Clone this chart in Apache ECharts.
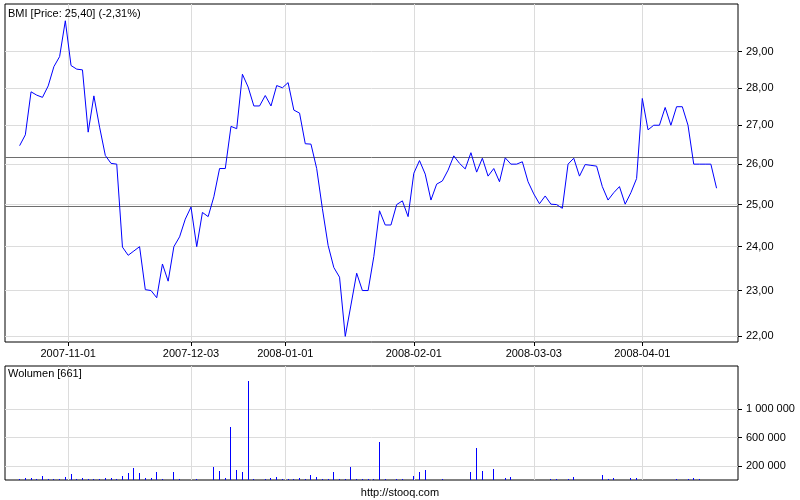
<!DOCTYPE html>
<html><head><meta charset="utf-8">
<script src="https://cdn.jsdelivr.net/npm/echarts@6/dist/echarts.min.js"></script>
<style>html,body{margin:0;padding:0;background:#fff}#c{width:800px;height:500px}</style>
</head><body><div id="c"></div>
<script>
// ---- data ----
const startDate = '2007-10-19';
const endDate = '2008-04-18';
const holidays = ['2007-11-01','2007-12-24','2007-12-25','2007-12-26','2007-12-31','2008-01-01','2008-03-21','2008-03-24'];
const tickLabels = ['2007-11-01','2007-12-03','2008-01-01','2008-02-01','2008-03-03','2008-04-01'];
const price = [
 26.47,26.75,27.89,27.80,27.74,28.05,28.58,28.86,29.88,28.61,
 28.51,28.49,26.82,27.78,26.95,26.22,26.02,26.00,23.99,23.80,
 23.90,24.00,23.02,23.00,22.84,23.60,23.21,24.00,24.23,24.65,
 24.94,24.00,24.81,24.71,25.19,25.89,25.89,26.97,26.91,28.37,
 28.02,27.51,27.51,27.79,27.51,28.06,28.00,28.14,27.40,27.32,
 26.52,26.51,25.89,24.90,24.03,23.52,23.30,22.00,22.68,23.39,
 23.00,23.00,23.77,24.85,24.51,24.51,25.00,25.09,24.71,25.77,
 26.09,25.75,25.11,25.50,25.58,25.85,26.21,26.02,25.88,26.29,
 25.80,26.15,25.70,25.89,25.56,26.16,26.00,26.00,26.06,25.56,
 25.26,25.02,25.21,25.01,25.00,24.91,26.00,26.15,25.70,25.99,
 25.97,25.95,25.44,25.11,25.29,25.44,25.01,25.29,25.64,27.71,
 26.88,27.00,27.00,27.47,27.00,27.49,27.49,27.00,26.00,26.00,
 26.00,26.00,25.40
];
const volume = [
 14000,28000,28000,14000,57000,14000,14000,14000,42000,85000,
 14000,28000,14000,14000,14000,28000,28000,14000,57000,99000,
 170000,99000,28000,28000,113000,14000,0,113000,14000,0,
 0,14000,0,0,184000,127000,28000,750000,141000,113000,
 1405000,14000,0,14000,28000,42000,14000,14000,14000,28000,
 14000,71000,42000,14000,14000,113000,14000,14000,184000,14000,
 14000,14000,14000,538000,14000,0,14000,14000,0,57000,
 113000,141000,0,0,14000,0,0,0,0,113000,
 453000,127000,0,156000,0,28000,42000,0,0,0,
 0,0,0,14000,14000,0,14000,42000,0,0,
 0,0,71000,14000,28000,0,0,28000,28000,0,
 0,0,0,0,0,14000,0,14000,28000,14000,
 0,0,661
];
const refLevels = [26.18, 24.95];
const priceTicks = [22,23,24,25,26,27,28,29];
const volumeTicks = [200000,600000,1000000];

// ---- build trading-day categories ----
const dates = [];
(function(){
  let d = new Date(startDate + 'T00:00:00Z');
  const end = new Date(endDate + 'T00:00:00Z');
  while (d <= end) {
    const s = d.toISOString().slice(0,10);
    const wd = d.getUTCDay();
    if (wd !== 0 && wd !== 6 && holidays.indexOf(s) < 0) dates.push(s);
    d = new Date(d.getTime() + 86400000);
  }
})();
// tick positions (index on the trading-day scale; non-trading dates fall between days)
const tickPos = tickLabels.map(t => {
  const k = dates.indexOf(t);
  if (k >= 0) return k;
  const j = dates.findIndex(s => s > t);
  return j - 0.5;
});
const priceData = price.map((v,i) => [i, v]);
const volData = volume.map((v,i) => [i, v]);

const last = price[price.length-1], prev = price[price.length-2];
const pct = (last/prev - 1) * 100;
const fmt2 = v => v.toFixed(2).replace('.', ',');
const fmtVol = v => String(Math.round(v)).replace(/\B(?=(\d{3})+(?!\d))/g, ' ');
const fmtX = v => { const k = tickPos.findIndex(p => Math.abs(p - v) < 0.01); return k >= 0 ? tickLabels[k] : ''; };

const FONT = '"Liberation Sans", Arial, sans-serif';
const GRIDC = '#dcdcdc';
const xMin = -2.56, xMax = 125.75;

const chart = echarts.init(document.getElementById('c'), null, {renderer:'canvas'});
chart.setOption({
  animation: false,
  backgroundColor: '#fff',
  textStyle: {fontFamily: FONT},
  title: [
    {text: 'BMI [Price: ' + fmt2(last) + '] (' + fmt2(pct) + '%)', left: 8, top: 8, padding: 0,
     textStyle: {fontSize: 11, fontWeight: 'normal', color: '#000', fontFamily: FONT}},
    {text: 'Wolumen [' + volume[volume.length-1] + ']', left: 8, top: 368, padding: 0,
     textStyle: {fontSize: 11, fontWeight: 'normal', color: '#000', fontFamily: FONT}},
    {text: 'http://stooq.com', left: 'center', top: 487, padding: 0,
     textStyle: {fontSize: 11, fontWeight: 'normal', color: '#000', fontFamily: FONT}}
  ],
  grid: [
    {left: 5, top: 4, width: 733, height: 338, show: true, borderColor: '#000', borderWidth: 1, backgroundColor: 'transparent'},
    {left: 5, top: 366, width: 733, height: 114, show: true, borderColor: '#000', borderWidth: 1, backgroundColor: 'transparent'}
  ],
  xAxis: [
    {type: 'value', gridIndex: 0, min: xMin, max: xMax,
     axisLine: {show: false, onZero: false},
     axisTick: {show: true, inside: false, length: 4, customValues: tickPos, lineStyle: {color: '#000'}},
     axisLabel: {show: true, customValues: tickPos, formatter: fmtX, margin: 6, fontSize: 11, color: '#000', fontFamily: FONT},
     splitLine: {show: true, lineStyle: {color: GRIDC, width: 1}}},
    {type: 'value', gridIndex: 1, min: xMin, max: xMax,
     axisLine: {show: false, onZero: false},
     axisTick: {show: false, customValues: tickPos},
     axisLabel: {show: false, customValues: tickPos},
     splitLine: {show: true, lineStyle: {color: GRIDC, width: 1}}}
  ],
  yAxis: [
    {type: 'log', logBase: 10, gridIndex: 0, position: 'right', min: 21.88, max: 30.37,
     axisLine: {show: false, onZero: false},
     axisTick: {show: true, inside: false, length: 4, customValues: priceTicks, lineStyle: {color: '#000'}},
     axisLabel: {show: true, customValues: priceTicks, formatter: fmt2, margin: 8, fontSize: 11, color: '#000', fontFamily: FONT},
     splitLine: {show: true, lineStyle: {color: GRIDC, width: 1}}},
    {type: 'value', gridIndex: 1, position: 'right', min: 0, max: 1610000,
     axisLine: {show: false, onZero: false},
     axisTick: {show: true, inside: false, length: 4, customValues: volumeTicks, lineStyle: {color: '#000'}},
     axisLabel: {show: true, customValues: volumeTicks, formatter: fmtVol, margin: 8, fontSize: 11, color: '#000', fontFamily: FONT},
     splitLine: {show: true, lineStyle: {color: GRIDC, width: 1}}}
  ],
  series: [
    {type: 'line', xAxisIndex: 0, yAxisIndex: 0, data: priceData, showSymbol: false, symbol: 'none',
     lineStyle: {color: '#0000ff', width: 1}, itemStyle: {color: '#0000ff'}, z: 5,
     markLine: {silent: true, symbol: 'none', label: {show: false}, z: 3,
       lineStyle: {color: '#6e6e6e', width: 1, type: 'solid'},
       data: refLevels.map(v => ({yAxis: v}))}},
    {type: 'custom', xAxisIndex: 1, yAxisIndex: 1, data: volData, z: 5,
     encode: {x: 0, y: 1},
     renderItem: function (params, api) {
       const v = api.value(1);
       if (!v) return null;
       const top = api.coord([api.value(0), v]);
       const base = api.coord([api.value(0), 0]);
       const x = Math.floor(top[0]);
       const y0 = Math.round(base[1]);
       const y1 = Math.round(top[1]);
       if (y0 - y1 < 1) return null;
       return {type: 'rect', shape: {x: x, y: y1, width: 1, height: y0 - y1},
               style: {fill: '#0000ff'}};
     }}
  ]
});
</script>
</body></html>
